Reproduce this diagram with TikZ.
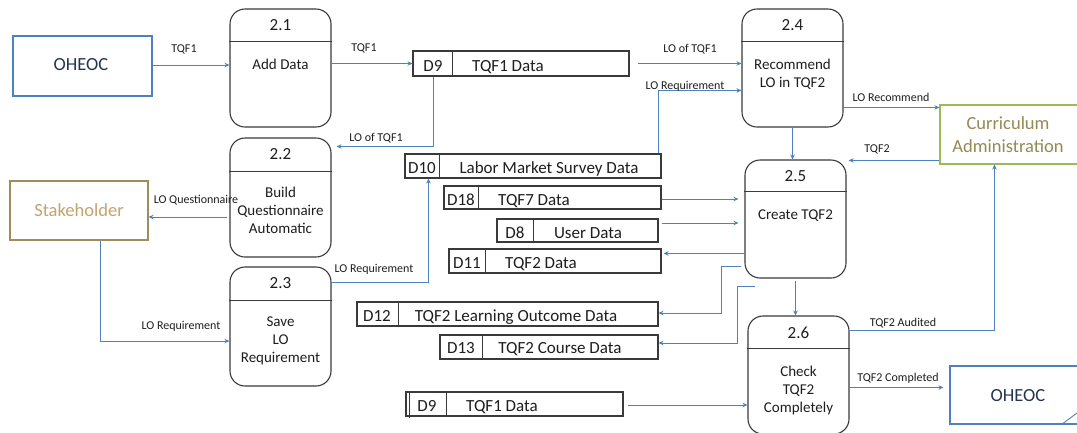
\documentclass[tikz,border=0pt]{standalone}
\usepackage{fontspec}
\setmainfont{Carlito}
\usetikzlibrary{arrows.meta,calc}

\definecolor{flow}{HTML}{4F81BD}
\definecolor{boxline}{HTML}{3A3A3A}
\definecolor{ink}{HTML}{1E1E1E}
\definecolor{navyink}{HTML}{243550}
\definecolor{stakeline}{HTML}{A08C5A}
\definecolor{stakeink}{HTML}{C2A46E}
\definecolor{currline}{HTML}{9BBB59}
\definecolor{currink}{HTML}{948A54}

\tikzset{
  proc/.style={draw=boxline, line width=1.1pt, rounded corners=15pt,
    minimum width=101pt, minimum height=118pt, inner sep=0pt},
  procsep/.style={draw=boxline, line width=1.1pt},
  ptitle/.style={font=\fontsize{17}{20}\selectfont, text=ink, inner sep=0pt},
  ptext/.style={font=\fontsize{15}{18}\selectfont, text=ink, align=center,
    anchor=north, inner sep=0pt},
  store/.style={draw=boxline, line width=1.1pt, minimum height=24pt, inner sep=0pt},
  storesep/.style={draw=boxline, line width=1.1pt},
  stxt/.style={font=\fontsize{17}{20}\selectfont, text=ink, anchor=base, inner sep=0pt},
  flowline/.style={draw=flow, line width=0.9pt, -{Stealth[length=5pt,width=4.5pt]}},
  lbl/.style={font=\fontsize{12}{14}\selectfont, text=ink, anchor=base, inner sep=0pt},
  extbox/.style={line width=1.1pt, inner sep=0pt},
  exttxt/.style={font=\fontsize{18.5}{23}\selectfont, align=center, inner sep=0pt}
}

\begin{document}
\begin{tikzpicture}[x=1pt, y=-1pt]
\useasboundingbox[fill=white] (0,0) rectangle (1077,432);

% ---------- external entities ----------
\node[extbox, draw=flow, minimum width=139pt, minimum height=60pt] (oheocA) at (82.5,66) {};
\node[exttxt, text=navyink] (oheocAt) at (81,65) {OHEOC};
\node[extbox, draw=stakeline, minimum width=138pt, minimum height=59pt] (stake) at (79,210.5) {};
\node[exttxt, text=stakeink] (staket) at (79,210) {Stakeholder};
\node[extbox, draw=currline, minimum width=160pt, minimum height=59pt] (curr) at (1020,134.5) {};
\node[exttxt, text=currink] (currt) at (1008,135) {Curriculum\\Administration};
\node[extbox, draw=flow, minimum width=150pt, minimum height=58pt] (oheocB) at (1025,395) {};
\node[exttxt, text=navyink] (oheocBt) at (1018,396) {OHEOC};
\draw[draw=flow, line width=0.9pt] ([xshift=112pt]oheocB.south west) -- (1077,413);

% ---------- processes ----------
\node[proc] (p21) at (280.5,68) {};
\draw[procsep] ([yshift=-33pt]p21.north west) -- ([yshift=-33pt]p21.north east);
\node[ptitle] (p21n) at ([yshift=-17pt]p21.north) {2.1};
\node[ptext] (p21t) at ([yshift=-50pt]p21.north) {Add Data};

\node[proc, minimum height=119pt] (p22) at (280.5,197.5) {};
\draw[procsep] ([yshift=-34pt]p22.north west) -- ([yshift=-34pt]p22.north east);
\node[ptitle] (p22n) at ([yshift=-17pt]p22.north) {2.2};
\node[ptext] (p22t) at ([yshift=-49pt]p22.north) {Build\\Questionnaire\\Automatic};

\node[proc, minimum height=119pt] (p23) at (280.5,326.5) {};
\draw[procsep] ([yshift=-34pt]p23.north west) -- ([yshift=-34pt]p23.north east);
\node[ptitle] (p23n) at ([yshift=-17pt]p23.north) {2.3};
\node[ptext] (p23t) at ([yshift=-50pt]p23.north) {Save\\LO\\Requirement};

\node[proc] (p24) at (792.5,68) {};
\draw[procsep] ([yshift=-33pt]p24.north west) -- ([yshift=-33pt]p24.north east);
\node[ptitle] (p24n) at ([yshift=-17pt]p24.north) {2.4};
\node[ptext] (p24t) at ([yshift=-50pt]p24.north) {Recommend\\LO in TQF2};

\node[proc] (p25) at (795.5,219) {};
\draw[procsep] ([yshift=-32pt]p25.north west) -- ([yshift=-32pt]p25.north east);
\node[ptitle] (p25n) at ([yshift=-17pt]p25.north) {2.5};
\node[ptext] (p25t) at ([yshift=-50pt]p25.north) {Create TQF2};

\node[proc] (p26) at (798.5,375) {};
\draw[procsep] ([yshift=-33pt]p26.north west) -- ([yshift=-33pt]p26.north east);
\node[ptitle] (p26n) at ([yshift=-17pt]p26.north) {2.6};
\node[ptext] (p26t) at ([yshift=-50pt]p26.north) {Check\\TQF2\\Completely};

% ---------- data stores ----------
\node[store, minimum width=216pt, minimum height=25pt] (d9a) at (521,63.5) {};
\draw[storesep] ([xshift=40pt]d9a.north west) -- ([xshift=40pt]d9a.south west);
\node[stxt] (d9an) at (433,71) {D9};
\node[stxt] (d9at) at (508,71) {TQF1 Data};

\node[store, minimum width=256pt] (d10) at (533,166) {};
\draw[storesep] ([xshift=35pt]d10.north west) -- ([xshift=35pt]d10.south west);
\node[stxt] (d10n) at (422,173.5) {D10};
\node[stxt] (d10t) at (549,173.5) {Labor Market Survey Data};

\node[store, minimum width=217pt, minimum height=23pt] (d18) at (552.5,197.5) {};
\draw[storesep] ([xshift=35pt]d18.north west) -- ([xshift=35pt]d18.south west);
\node[stxt] (d18n) at (461,205) {D18};
\node[stxt] (d18t) at (534,205) {TQF7 Data};

\node[store, minimum width=161pt, minimum height=23pt] (d8) at (577.5,230.5) {};
\draw[storesep] ([xshift=37pt]d8.north west) -- ([xshift=37pt]d8.south west);
\node[stxt] (d8n) at (515,238) {D8};
\node[stxt] (d8t) at (588,238) {User Data};

\node[store, minimum width=212pt] (d11) at (555,261) {};
\draw[storesep] ([xshift=37pt]d11.north west) -- ([xshift=37pt]d11.south west);
\node[stxt] (d11n) at (467,268.5) {D11};
\node[stxt] (d11t) at (541,268.5) {TQF2 Data};

\node[store, minimum width=301pt] (d12) at (507.5,314) {};
\draw[storesep] ([xshift=42pt]d12.north west) -- ([xshift=42pt]d12.south west);
\node[stxt] (d12n) at (377,321.5) {D12};
\node[stxt] (d12t) at (516,321.5) {TQF2 Learning Outcome Data};

\node[store, minimum width=218pt] (d13) at (549,347) {};
\draw[storesep] ([xshift=43pt]d13.north west) -- ([xshift=43pt]d13.south west);
\node[stxt] (d13n) at (461,353.5) {D13};
\node[stxt] (d13t) at (560,353.5) {TQF2 Course Data};

\node[store, minimum width=217pt] (d9b) at (514.5,404) {};
\draw[storesep] ([xshift=4pt]d9b.north west) -- ([xshift=4pt,yshift=-1pt]d9b.south west);
\draw[storesep] ([xshift=41pt]d9b.north west) -- ([xshift=41pt]d9b.south west);
\node[stxt] (d9bn) at (427,411.5) {D9};
\node[stxt] (d9bt) at (502,411.5) {TQF1 Data};

% ---------- data flows ----------
% OHEOC -> 2.1
\coordinate (c1) at ([yshift=1pt]oheocA.east);
\draw[flowline] (c1) -- (c1 -| p21.west);
\node[lbl] (l1) at (184,52) {TQF1};
% 2.1 -> D9
\draw[flowline] (d9a.west -| p21.east) -- (d9a.west);
\node[lbl] (l2) at (364,51) {TQF1};
% D9 -> 2.4
\coordinate (c3) at ([xshift=8pt]d9a.east);
\draw[flowline] (c3) -- (c3 -| p24.west);
\node[lbl] (l3) at (690,52) {LO of TQF1};
% D10 -> 2.4
\draw[flowline] ([xshift=-3pt]d10.north east) |- ([yshift=-82pt]p24.north west);
\node[lbl] (l4) at (685,89) {LO Requirement};
% D9 -> 2.2
\draw[flowline, shorten >=5pt] ([xshift=21pt]d9a.south west) |- ([yshift=-9pt]p22.north east);
\node[lbl] (l5) at (376,141) {LO of TQF1};
% 2.2 -> Stakeholder
\coordinate (c6) at ([shift={(-2pt,-19.5pt)}]p22.west);
\draw[flowline] (c6) -- (c6 -| stake.east);
\node[lbl] (l6) at (196,203) {LO Questionnaire};
% Stakeholder -> 2.3
\draw[flowline] ([xshift=21pt]stake.south) |- ([yshift=-14.5pt]p23.west);
\node[lbl] (l7) at (181,329) {LO Requirement};
% 2.3 -> D10
\draw[flowline] ([yshift=-16pt]p23.north east) -| ([xshift=24pt]d10.south west);
\node[lbl] (l8) at (374,272) {LO Requirement};
% 2.4 -> Curriculum Administration
\coordinate (c9) at ([yshift=-99pt]p24.north east);
\draw[flowline] (c9) -- (c9 -| curr.west);
\node[lbl] (l9) at (891,101) {LO Recommend};
% Curriculum Administration -> 2.5
\coordinate (c10) at ([yshift=-56pt]curr.north west);
\draw[flowline] (c10) -- ([xshift=2pt]c10 -| p25.east);
\node[lbl] (l10) at (877,152) {TQF2};
% 2.4 -> 2.5
\draw[flowline] (p24.south) -- (p24.south |- p25.north);
% D18, D8 -> 2.5
\coordinate (c12) at ([yshift=-1.5pt]d18.east);
\draw[flowline, shorten >=6pt] (c12) -- (c12 -| p25.west);
\coordinate (c13) at ([shift={(3pt,7.5pt)}]d8.east);
\draw[flowline, shorten >=6pt] (c13) -- (c13 -| p25.west);
% 2.5 -> D11
\coordinate (c14) at ([yshift=-94pt]p25.north west);
\draw[flowline, shorten >=2pt] (c14) -- (c14 -| d11.east);
% 2.5 -> D12
\coordinate (c15) at ([shift={(-3pt,-107pt)}]p25.north west);
\draw[flowline] (c15) -| ([shift={(63pt,1pt)}]d12.east) -- ([yshift=1pt]d12.east);
% 2.5 -> D13
\coordinate (c16) at ([shift={(11pt,-127pt)}]p25.north west);
\draw[flowline] (c16) -| ([shift={(79pt,4pt)}]d13.east) -- ([yshift=4pt]d13.east);
% 2.5 -> 2.6
\draw[flowline] ([yshift=-2pt]p25.south) -- (p25.south |- p26.north);
% D9 -> 2.6
\coordinate (c18) at ([shift={(4pt,-1pt)}]d9b.east);
\draw[flowline] (c18) -- (c18 -| p26.west);
% 2.6 -> Curriculum Administration
\draw[flowline] ([yshift=-15pt]p26.north east) -| ([xshift=55pt]curr.south west);
\node[lbl] (l19) at (903,326) {TQF2 Audited};
% 2.6 -> OHEOC
\coordinate (c20) at ([yshift=-72pt]p26.north east);
\draw[flowline, shorten >=6pt] (c20) -- (c20 -| oheocB.west);
\node[lbl] (l20) at (898,381) {TQF2 Completed};
\end{tikzpicture}
\end{document}
